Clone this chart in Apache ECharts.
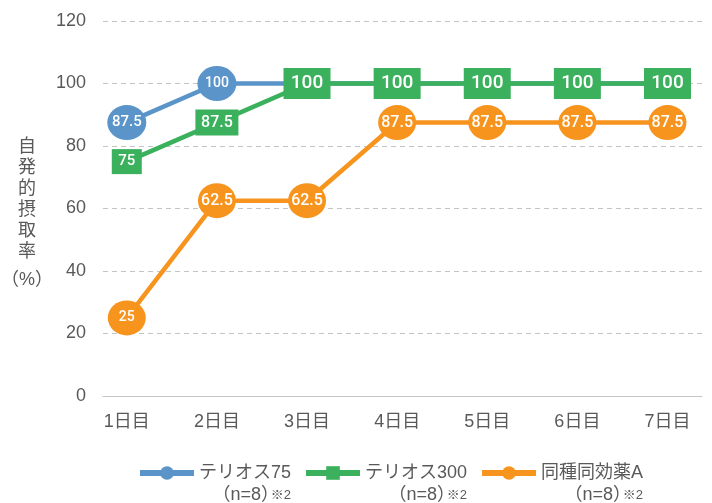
<!DOCTYPE html>
<html>
<head>
    <meta charset="utf-8">
    <title>自発的摂取率</title>
    <script src="https://cdn.jsdelivr.net/npm/echarts@6/dist/echarts.min.js"></script>
    <style>
        html, body { margin: 0; padding: 0; background: #fff; }
        #main { width: 712px; height: 503px; }
    </style>
</head>
<body>
    <div id="main"></div>
    <script type="text/javascript">
        // データ
        var days = ['1日目', '2日目', '3日目', '4日目', '5日目', '6日目', '7日目'];
        var yTicks = [0, 20, 40, 60, 80, 100, 120];
        var names = ['テリオス75', 'テリオス300', '同種同効薬A'];
        var nNotes = ['（n=8）', '（n=8）', '（n=8）'];
        var terios75 = [87.5, 100, 100, 100, 100, 100, 100];
        var terios300 = [75, 87.5, 100, 100, 100, 100, 100];
        var drugA = [25, 62.5, 62.5, 87.5, 87.5, 87.5, 87.5];

        var BLUE = '#5a94c9', GREEN = '#3bb05d', ORANGE = '#f7941e';
        var FONT = "'Liberation Sans', 'Noto Sans CJK JP', sans-serif";
        var LABEL_FONT = "Roboto, 'Liberation Sans', sans-serif";

        var myChart = echarts.init(document.getElementById('main'));

        function labelOpt(size) {
            return {
                show: true,
                position: 'inside',
                color: '#fff',
                fontFamily: LABEL_FONT,
                fontWeight: 500,
                fontSize: size,
                formatter: function (p) { return p.value[1]; }
            };
        }

        // 青：3日目以降は緑の下に隠れる
        var blueData = terios75.map(function (v, i) {
            if (i < 2) return { value: [i + 1, v], label: { fontSize: v >= 100 ? 14 : 15 } };
            return { value: [i + 1, v], symbol: 'none', label: { show: false } };
        });
        // 緑の100は文字が大きい
        var greenData = terios300.map(function (v, i) {
            var d = { value: [i + 1, v] };
            if (v >= 100) d.label = { fontSize: 19 };
            else if (v < 80) d.label = { fontSize: 15 };
            return d;
        });
        var orangeData = drugA.map(function (v, i) {
            var d = { value: [i + 1, v] };
            if (v < 50) d.label = { fontSize: 14 };
            return d;
        });

        var option = {
            animation: false,
            grid: { left: 103, right: 10, top: 21, bottom: 107, outerBoundsMode: 'none', containLabel: false },
            xAxis: {
                type: 'value',
                min: 0.736,
                max: 7.383,
                axisLine: { show: true, onZero: true, lineStyle: { color: '#c4c4c4', width: 1 } },
                axisTick: { show: false },
                splitLine: { show: false },
                axisLabel: {
                    customValues: [1, 2, 3, 4, 5, 6, 7],
                    formatter: function (v) { return days[Math.round(v) - 1] || ''; },
                    color: '#595959',
                    fontFamily: FONT,
                    fontSize: 18,
                    margin: 17
                }
            },
            yAxis: {
                type: 'value',
                min: yTicks[0],
                max: yTicks[yTicks.length - 1],
                interval: 20,
                axisLine: { show: false },
                axisTick: { show: false },
                axisLabel: { color: '#595959', fontFamily: FONT, fontSize: 18, margin: 17 },
                splitLine: { lineStyle: { color: '#c4c4c4', type: [5, 4], width: 1 } },
                name: '自\n発\n的\n摂\n取\n率\n{p|（%）}',
                nameLocation: 'middle',
                nameRotate: 0,
                nameGap: 76,
                nameMoveOverlap: false,
                nameTextStyle: {
                    color: '#595959',
                    fontFamily: FONT,
                    fontSize: 18,
                    lineHeight: 21,
                    align: 'center',
                    verticalAlign: 'middle',
                    padding: [17, 0, 0, 0],
                    rich: { p: { fontSize: 18, lineHeight: 35, color: '#595959', fontFamily: FONT } }
                }
            },
            legend: {
                left: 137,
                top: 464,
                padding: 0,
                itemWidth: 54,
                itemHeight: 17,
                itemGap: 12,
                data: names,
                lineStyle: { width: 6 },
                formatter: function (name) {
                    return '{a|' + name + '}\n{b|' + nNotes[names.indexOf(name)] + '}{c|※2}';
                },
                textStyle: {
                    color: '#595959',
                    fontFamily: FONT,
                    padding: [22, 0, 0, 0],
                    rich: {
                        a: { fontSize: 18, lineHeight: 22, fontFamily: FONT, color: '#595959' },
                        b: { fontSize: 18, lineHeight: 22, fontFamily: FONT, color: '#595959', align: 'right' },
                        c: { fontSize: 13, lineHeight: 22, width: 12, fontFamily: FONT, color: '#595959', align: 'right' }
                    }
                }
            },
            series: [
                {
                    name: names[0],
                    type: 'line',
                    data: blueData,
                    color: BLUE,
                    symbol: 'circle',
                    symbolSize: [39, 35],
                    lineStyle: { width: 4.5, color: BLUE },
                    itemStyle: { color: BLUE },
                    label: labelOpt(15),
                    z: 2
                },
                {
                    name: names[1],
                    type: 'line',
                    data: greenData,
                    color: GREEN,
                    symbol: 'rect',
                    symbolSize: function (v) {
                        if (v[1] >= 100) return [47, 31];
                        return String(v[1]).length > 2 ? [43, 26] : [30, 25];
                    },
                    lineStyle: { width: 4.5, color: GREEN },
                    itemStyle: { color: GREEN },
                    label: labelOpt(16),
                    z: 3
                },
                {
                    name: names[2],
                    type: 'line',
                    data: orangeData,
                    color: ORANGE,
                    symbol: 'circle',
                    symbolSize: [38, 35],
                    lineStyle: { width: 4.5, color: ORANGE },
                    itemStyle: { color: ORANGE },
                    label: labelOpt(16),
                    z: 4
                }
            ]
        };

        myChart.setOption(option);
    </script>
</body>
</html>
